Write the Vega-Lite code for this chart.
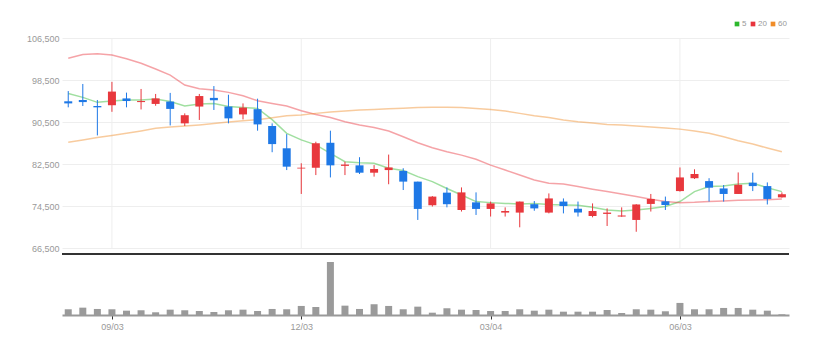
{
"$schema": "https://vega.github.io/schema/vega-lite/v6.json",
"width": 727,
"height": 297,
"padding": {"left": 22, "top": 18, "right": 35, "bottom": 5},
"background": "white",
"config": {"view": {"stroke": null}, "font": "Liberation Sans", "numberFormat": ","},
"data": {"values": [
{"d":"2024-08-13","o":94500,"h":96450,"l":93350,"c":94100,"v":171000,"5":96000,"20":102700,"60":86700},
{"d":"2024-08-20","o":94750,"h":97800,"l":93600,"c":94350,"v":219000,"5":95250,"20":103400,"60":87150},
{"d":"2024-08-27","o":93600,"h":94750,"l":88000,"c":93350,"v":180000,"5":94300,"20":103550,"60":87600},
{"d":"2024-09-03","o":93750,"h":98200,"l":92500,"c":96350,"v":171000,"5":94550,"20":103300,"60":88000},
{"d":"2024-09-10","o":95050,"h":96150,"l":93350,"c":94550,"v":129000,"5":94750,"20":102600,"60":88400},
{"d":"2024-09-17","o":94350,"h":96850,"l":92950,"c":94550,"v":141000,"5":94750,"20":101750,"60":88850},
{"d":"2024-09-24","o":94000,"h":95900,"l":93650,"c":95050,"v":81000,"5":94950,"20":100650,"60":89350},
{"d":"2024-10-01","o":94450,"h":96100,"l":89900,"c":93050,"v":159000,"5":94450,"20":99500,"60":89600},
{"d":"2024-10-08","o":90300,"h":92200,"l":89800,"c":91850,"v":141000,"5":93600,"20":97600,"60":89800},
{"d":"2024-10-15","o":93500,"h":95900,"l":90950,"c":95500,"v":120000,"5":94000,"20":96900,"60":90000},
{"d":"2024-10-22","o":95150,"h":97400,"l":92850,"c":94700,"v":90000,"5":94100,"20":96650,"60":90250},
{"d":"2024-10-29","o":93500,"h":95750,"l":90300,"c":91250,"v":141000,"5":93500,"20":96200,"60":90550},
{"d":"2024-11-05","o":92000,"h":94100,"l":91050,"c":93300,"v":159000,"5":93300,"20":95550,"60":90800},
{"d":"2024-11-12","o":93000,"h":95000,"l":88900,"c":90100,"v":120000,"5":93150,"20":94600,"60":91000},
{"d":"2024-11-19","o":89800,"h":90300,"l":84800,"c":86350,"v":180000,"5":91000,"20":94100,"60":91350},
{"d":"2024-11-26","o":85550,"h":88250,"l":81400,"c":82050,"v":171000,"5":88400,"20":93600,"60":91750},
{"d":"2024-12-03","o":81700,"h":82700,"l":76850,"c":81850,"v":270000,"5":87150,"20":92700,"60":91900},
{"d":"2024-12-10","o":81850,"h":86800,"l":80450,"c":86500,"v":240000,"5":86200,"20":92000,"60":92200},
{"d":"2024-12-17","o":86600,"h":88900,"l":80000,"c":82300,"v":1581000,"5":84600,"20":91400,"60":92450},
{"d":"2024-12-24","o":82200,"h":83000,"l":80450,"c":82450,"v":279000,"5":83000,"20":90600,"60":92650},
{"d":"2024-12-31","o":82300,"h":83850,"l":80650,"c":80900,"v":180000,"5":82800,"20":90000,"60":92850},
{"d":"2025-01-07","o":80900,"h":82350,"l":80150,"c":81600,"v":321000,"5":82700,"20":89500,"60":92950},
{"d":"2025-01-14","o":81400,"h":84350,"l":78700,"c":81900,"v":270000,"5":81750,"20":88850,"60":93100},
{"d":"2025-01-21","o":81250,"h":81750,"l":77600,"c":79200,"v":171000,"5":81300,"20":87750,"60":93200},
{"d":"2025-01-28","o":79200,"h":79200,"l":71900,"c":74000,"v":249000,"5":80150,"20":86600,"60":93300},
{"d":"2025-02-04","o":74700,"h":76450,"l":74450,"c":76350,"v":69000,"5":79200,"20":85650,"60":93350},
{"d":"2025-02-11","o":77100,"h":78100,"l":74300,"c":74900,"v":201000,"5":77900,"20":84900,"60":93350},
{"d":"2025-02-18","o":73800,"h":78100,"l":73500,"c":77150,"v":159000,"5":76650,"20":84250,"60":93300},
{"d":"2025-02-25","o":75250,"h":77150,"l":72850,"c":74000,"v":150000,"5":75400,"20":83450,"60":93150},
{"d":"2025-03-04","o":74000,"h":75400,"l":72550,"c":75050,"v":120000,"5":75200,"20":82350,"60":92950},
{"d":"2025-03-11","o":73300,"h":74300,"l":72550,"c":73600,"v":120000,"5":75050,"20":81400,"60":92650},
{"d":"2025-03-18","o":73300,"h":75400,"l":70500,"c":75400,"v":171000,"5":74950,"20":80450,"60":92200},
{"d":"2025-03-25","o":74900,"h":75500,"l":73650,"c":74100,"v":129000,"5":75050,"20":79500,"60":91750},
{"d":"2025-04-01","o":73300,"h":76950,"l":73150,"c":76000,"v":159000,"5":74850,"20":78900,"60":91400},
{"d":"2025-04-08","o":75400,"h":76000,"l":73150,"c":74550,"v":99000,"5":74750,"20":78750,"60":90950},
{"d":"2025-04-15","o":74050,"h":75400,"l":72550,"c":73300,"v":99000,"5":74700,"20":78250,"60":90600},
{"d":"2025-04-22","o":72650,"h":75050,"l":72400,"c":73600,"v":99000,"5":74300,"20":77750,"60":90350},
{"d":"2025-04-29","o":73050,"h":74100,"l":70750,"c":73300,"v":150000,"5":73800,"20":77300,"60":90100},
{"d":"2025-05-06","o":72550,"h":74300,"l":72500,"c":72750,"v":60000,"5":73600,"20":76850,"60":90000},
{"d":"2025-05-13","o":71900,"h":74900,"l":69650,"c":74850,"v":171000,"5":73800,"20":76350,"60":89800},
{"d":"2025-05-20","o":74950,"h":76850,"l":73500,"c":75900,"v":159000,"5":74100,"20":75850,"60":89600},
{"d":"2025-05-27","o":75450,"h":76350,"l":73800,"c":74750,"v":111000,"5":74450,"20":75400,"60":89400},
{"d":"2025-06-03","o":77400,"h":81900,"l":77300,"c":80000,"v":360000,"5":75400,"20":75200,"60":89200},
{"d":"2025-06-10","o":79850,"h":81550,"l":79700,"c":80650,"v":171000,"5":77300,"20":75250,"60":88850},
{"d":"2025-06-17","o":79300,"h":79850,"l":75400,"c":78050,"v":171000,"5":78250,"20":75400,"60":88400},
{"d":"2025-06-24","o":77900,"h":78550,"l":75400,"c":76850,"v":210000,"5":78350,"20":75500,"60":87750},
{"d":"2025-07-01","o":76850,"h":80950,"l":76850,"c":78600,"v":210000,"5":78750,"20":75650,"60":87000},
{"d":"2025-07-08","o":79000,"h":80900,"l":77400,"c":78350,"v":159000,"5":78900,"20":75700,"60":86350},
{"d":"2025-07-15","o":78350,"h":79050,"l":74850,"c":75900,"v":129000,"5":78050,"20":75750,"60":85600},
{"d":"2025-07-22","o":76200,"h":77150,"l":76150,"c":76800,"v":21000,"5":77300,"20":75900,"60":84900}
]},
"layer": [
{
"layer": [
{
"data": {"values": [{"d":"2024-09-03"},{"d":"2024-12-03"},{"d":"2025-03-04"},{"d":"2025-06-03"}]},
"mark": {"type": "rule", "color": "#eeeeee", "strokeWidth": 1},
"encoding": {
"x": {"field": "d", "type": "temporal", "title": null},
"y": {"datum": 106500, "type": "quantitative", "scale": {"domain": [53795, 110367], "zero": false, "nice": false},
"axis": {"values": [66500, 74500, 82500, 90500, 98500, 106500], "format": ",", "labelExpr": "format(datum.value, ',')", "grid": true, "gridColor": "#eeeeee", "domain": false, "ticks": false, "labelPadding": 3, "labelColor": "#999999", "labelFontSize": 9, "minExtent": 40, "maxExtent": 40, "title": null}},
"y2": {"datum": 66500}
}
},
{
"mark": {"type": "rule", "color": "#333333", "strokeWidth": 2},
"encoding": {"y": {"datum": 65414, "type": "quantitative"}}
},
{
"transform": [{"fold": ["5", "20", "60"], "as": ["ma", "val"]}],
"mark": {"type": "line", "strokeWidth": 1.5, "opacity": 0.45},
"encoding": {
"x": {"field": "d", "type": "temporal", "title": null},
"y": {"field": "val", "type": "quantitative", "title": null},
"color": {"field": "ma", "type": "nominal", "sort": ["5", "20", "60"],
"scale": {"domain": ["5", "20", "60"], "range": ["#2db82d", "#e8343c", "#f08c28"]},
"legend": {"title": null, "orient": "top-right", "offset": 2, "direction": "horizontal", "symbolType": "square", "symbolSize": 22, "labelFontSize": 8, "labelColor": "#999999", "labelOffset": 1, "columnPadding": 2, "symbolOpacity": 1, "padding": 0,
"encode": {"symbols": {"update": {"fill": {"scale": "color", "field": "value"}, "fillOpacity": {"value": 1}, "opacity": {"value": 1}, "strokeOpacity": {"value": 0}, "strokeWidth": {"value": 0}}}}}
}
}
},
{
"mark": {"type": "rule", "strokeWidth": 1},
"encoding": {
"x": {"field": "d", "type": "temporal", "title": null},
"y": {"field": "l", "type": "quantitative", "title": null},
"y2": {"field": "h"},
"color": {"condition": {"test": "datum.c >= datum.o", "value": "#e8383d"}, "value": "#1e78e6"}
}
},
{
"mark": {"type": "bar", "size": 8},
"encoding": {
"x": {"field": "d", "type": "temporal", "title": null},
"y": {"field": "o", "type": "quantitative", "title": null},
"y2": {"field": "c"},
"color": {"condition": {"test": "datum.c >= datum.o", "value": "#e8383d"}, "value": "#1e78e6"}
}
}
]
},
{
"mark": {"type": "bar", "size": 7, "color": "#9a9a9a"},
"encoding": {
"x": {"field": "d", "type": "temporal", "title": null,
"scale": {"type": "utc", "nice": false, "padding": 0, "domain": [{"year": 2024, "month": 8, "date": 10, "utc": true}, {"year": 2025, "month": 7, "date": 25, "hours": 10, "utc": true}]},
"axis": {"values": [{"year": 2024, "month": 9, "date": 3, "utc": true}, {"year": 2024, "month": 12, "date": 3, "utc": true}, {"year": 2025, "month": 3, "date": 4, "utc": true}, {"year": 2025, "month": 6, "date": 3, "utc": true}],
"format": "%m/%d", "grid": false, "labelColor": "#999999", "labelFontSize": 9, "tickColor": "#333333", "tickSize": 4, "domainColor": "#999999", "domainWidth": 2, "labelPadding": 3, "title": null}},
"y": {"field": "v", "type": "quantitative", "scale": {"domain": [0, 8859600], "nice": false}, "axis": null}
}
}
],
"resolve": {"scale": {"y": "independent"}}
}
